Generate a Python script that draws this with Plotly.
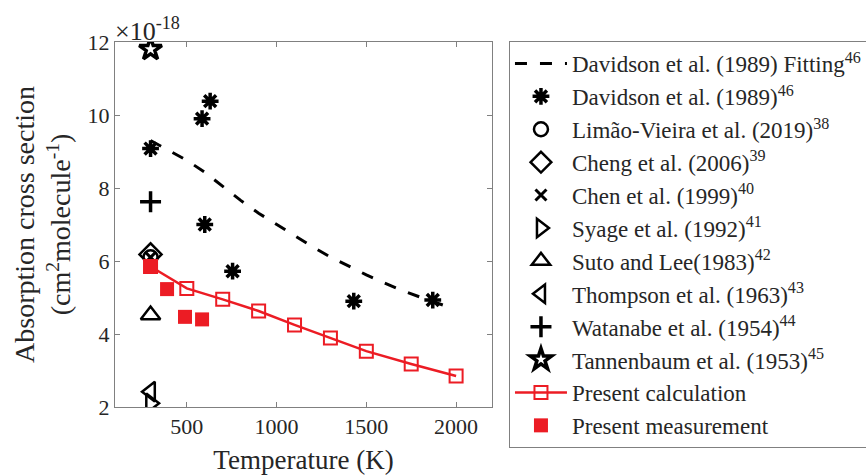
import plotly.graph_objects as go

# Data (values in units of 1e-18 cm^2 molecule^-1)
fit_T = [298, 400, 500, 600, 700, 800, 900, 1000, 1100, 1200, 1300, 1400, 1500, 1600, 1700, 1800, 1900, 1970]
fit_val = [9.3, 9.03, 8.76, 8.43, 8.04, 7.66, 7.31, 7.0, 6.68, 6.39, 6.11, 5.86, 5.62, 5.40, 5.19, 5.01, 4.84, 4.72]

dav_T = [298, 585, 630, 600, 755, 1430, 1870]
dav_val = [9.08, 9.9, 10.38, 7.0, 5.72, 4.9, 4.93]

lim_T = [298]; lim_val = [6.1]
cheng_T = [298]; cheng_val = [6.18]
chen_T = [298]; chen_val = [6.1]
syage_T = [298]; syage_val = [2.1]
suto_T = [298]; suto_val = [4.52]
thomp_T = [298]; thomp_val = [2.42]
wata_T = [298]; wata_val = [7.62]
tann_T = [298]; tann_val = [11.8]

calc_T = [298, 500, 700, 900, 1100, 1300, 1500, 1750, 2000]
calc_val = [5.85, 5.25, 4.95, 4.63, 4.25, 3.89, 3.53, 3.18, 2.85]

meas_T = [298, 390, 490, 585]
meas_val = [5.84, 5.23, 4.47, 4.4]

x_ticks = [500, 1000, 1500, 2000]
y_ticks = [2, 4, 6, 8, 10, 12]

FONT = "Liberation Serif"
TXT = "#262626"
RED = "#ec1c24"
BLK = "black"

fig = go.Figure()

def add(x, y, name, rank, **kw):
    fig.add_trace(go.Scatter(x=x, y=y, name=name, legendrank=rank,
                             legendgroup=name, **kw))

add(fit_T, fit_val, "Davidson et al. (1989) Fitting<sup>46</sup>", 1,
    mode="lines", line=dict(color=BLK, width=3, dash="12px,13px"))
add(dav_T, dav_val, "Davidson et al. (1989)<sup>46</sup>", 2,
    mode="markers", marker=dict(symbol="asterisk-open", size=14, color=BLK, line=dict(color=BLK, width=3.5)))
add(lim_T, lim_val, "Limão-Vieira et al. (2019)<sup>38</sup>", 3,
    mode="markers", marker=dict(symbol="circle-open", size=14, color=BLK, line=dict(color=BLK, width=2.5)))
add(cheng_T, cheng_val, "Cheng et al. (2006)<sup>39</sup>", 4,
    mode="markers", marker=dict(symbol="diamond-open", size=17, color=BLK, line=dict(color=BLK, width=2.5)))
add(chen_T, chen_val, "Chen et al. (1999)<sup>40</sup>", 5,
    mode="markers", marker=dict(symbol="x-thin-open", size=11, color=BLK, line=dict(color=BLK, width=3)))
add(syage_T, syage_val, "Syage et al. (1992)<sup>41</sup>", 6,
    mode="markers", marker=dict(symbol="triangle-right-open", size=17, color=BLK, line=dict(color=BLK, width=2.5)))
add(suto_T, suto_val, "Suto and Lee(1983)<sup>42</sup>", 7,
    mode="markers", marker=dict(symbol="triangle-up-open", size=17, color=BLK, line=dict(color=BLK, width=2.5)))
add(thomp_T, thomp_val, "Thompson et al. (1963)<sup>43</sup>", 8,
    mode="markers", marker=dict(symbol="triangle-left-open", size=17, color=BLK, line=dict(color=BLK, width=2.5)))
add(wata_T, wata_val, "Watanabe et al. (1954)<sup>44</sup>", 9,
    mode="markers", marker=dict(symbol="cross-thin-open", size=15, color=BLK, line=dict(color=BLK, width=3.5)))
add(tann_T, tann_val, "Tannenbaum et al. (1953)<sup>45</sup>", 10,
    mode="markers", marker=dict(symbol="star-open", size=17, color=BLK, line=dict(color=BLK, width=3.5)))
add(calc_T, calc_val, "Present calculation", 11,
    mode="lines+markers", line=dict(color=RED, width=2.5),
    marker=dict(symbol="square-open", size=13, color=RED, line=dict(color=RED, width=2)))
add(meas_T, meas_val, "Present measurement", 12,
    mode="markers", marker=dict(symbol="square", size=14, color=RED, line=dict(color=RED, width=0)))

axis_common = dict(showline=True, linecolor="#808080", linewidth=1, mirror="allticks",
                   ticks="inside", ticklen=5, tickcolor="#808080", showgrid=False,
                   zeroline=False, automargin=False,
                   tickfont=dict(family=FONT, size=22, color=TXT))

# figure 476 tall, margins t=b=10 -> paper height 456; axes placed via domain
Y_BOT = (466 - 407) / 456
Y_TOP = (466 - 42) / 456

fig.update_xaxes(range=[100, 2200], tickvals=x_ticks, ticktext=[str(v) for v in x_ticks],
                 title=dict(text="Temperature (K)", font=dict(family=FONT, size=27, color=TXT), standoff=11),
                 **axis_common)
fig.update_yaxes(range=[2, 12], tickvals=y_ticks, ticktext=[str(v) for v in y_ticks],
                 domain=[Y_BOT, Y_TOP],
                 title=dict(text="Absorption cross section<br>(cm<sup>2</sup>molecule<sup>-1</sup>)",
                            font=dict(family=FONT, size=28, color=TXT), standoff=8),
                 **axis_common)

fig.add_annotation(text="×10<sup>-18</sup>", xref="paper", yref="paper", x=-0.005, y=Y_TOP,
                   xanchor="left", yanchor="bottom", showarrow=False, yshift=-6,
                   font=dict(family=FONT, size=26, color=TXT))

fig.update_layout(
    width=866, height=476,
    margin=dict(l=115, r=374, t=10, b=10, autoexpand=False),
    plot_bgcolor="white", paper_bgcolor="white",
    legend=dict(x=1.045, y=(466 - 41) / 456, xanchor="left", yanchor="top",
                bordercolor="#808080", borderwidth=1,
                font=dict(family=FONT, size=23, color=TXT),
                tracegroupgap=0, itemsizing="trace", itemwidth=52,
                entrywidth=330, entrywidthmode="pixels"),
    showlegend=True,
)

fig.write_html("out.html")
